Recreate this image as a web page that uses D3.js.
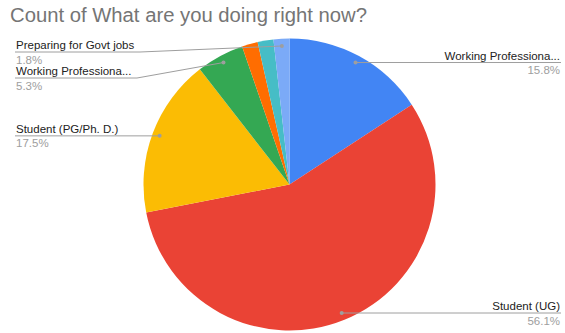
<!DOCTYPE html>
<html><head><meta charset="utf-8">
<script src="https://cdn.jsdelivr.net/npm/d3@7"></script>
<style>body{margin:0;background:#fff}svg{display:block}</style>
</head><body>
<svg id="c" width="565" height="333"></svg>
<script>
// ---- data ----
const categories = ["Working Professional", "Student (UG)", "Student (PG/Ph. D.)", "Working Professional (part-time)", "Other", "Other (2)", "Preparing for Govt jobs"];
const counts = [9, 32, 10, 3, 1, 1, 1];
const displayNames = ["Working Professiona...", "Student (UG)", "Student (PG/Ph. D.)", "Working Professiona...", "", "", "Preparing for Govt jobs"];
const colors = ["#4285F4", "#EA4335", "#FBBC04", "#34A853", "#FF6D01", "#46BDC6", "#7BAAF7"];
const title = "Count of What are you doing right now?";

// ---- layout ----
const W = 565, H = 333;
const cx = 289.5, cy = 184.5, R = 146;
const labelLayout = {
  0: {side: "right"},
  1: {side: "right"},
  2: {side: "left"},
  3: {side: "left", lineY: 78, elbowX: 137},
  6: {side: "left", lineY: 52, elbowX: 140}
};
const FONT = "Arial, 'Liberation Sans', sans-serif";

const svg = d3.select("#c");
svg.append("text").attr("x", 10).attr("y", 22)
  .attr("font-family", FONT).attr("font-size", 19.5)
  .attr("fill", "#757575").attr("textLength", 357).attr("lengthAdjust", "spacingAndGlyphs")
  .text(title);

const total = d3.sum(counts);
const pie = d3.pie().sort(null).value(d => d)(counts);
const arc = d3.arc().innerRadius(0).outerRadius(R);
const g = svg.append("g").attr("transform", `translate(${cx},${cy})`);
g.selectAll("path").data(pie).join("path")
  .attr("d", arc).attr("fill", (d, i) => colors[i]);

const fmt = d3.format(".1f");
const lg = svg.append("g").attr("font-family", FONT).attr("font-size", 11.5);
pie.forEach((d, i) => {
  const L = labelLayout[i];
  if (!L) return;
  const a = (d.startAngle + d.endAngle) / 2;
  const rd = R * 0.95;
  const dx = cx + rd * Math.sin(a), dy = cy - rd * Math.cos(a);
  const pct = fmt(counts[i] / total * 100) + "%";
  let pts, tx, anchor, ly;
  if (L.side === "right") {
    ly = dy;
    pts = [[dx, dy], [561, dy]];
    tx = 560; anchor = "end";
  } else {
    ly = L.lineY !== undefined ? L.lineY : dy;
    pts = L.elbowX !== undefined ? [[dx, dy], [L.elbowX, ly], [15, ly]] : [[dx, dy], [15, ly]];
    tx = 16; anchor = "start";
  }
  lg.append("path").attr("d", d3.line()(pts)).attr("fill", "none")
    .attr("stroke", "#9e9e9e").attr("stroke-width", 1);
  lg.append("circle").attr("cx", dx).attr("cy", dy).attr("r", 2).attr("fill", "#9e9e9e");
  lg.append("text").attr("x", tx).attr("y", ly - 3).attr("text-anchor", anchor)
    .attr("fill", "#222").text(displayNames[i]);
  lg.append("text").attr("x", tx).attr("y", ly + 11.5).attr("text-anchor", anchor)
    .attr("fill", "#9e9e9e").text(pct);
});
</script>
</body></html>
